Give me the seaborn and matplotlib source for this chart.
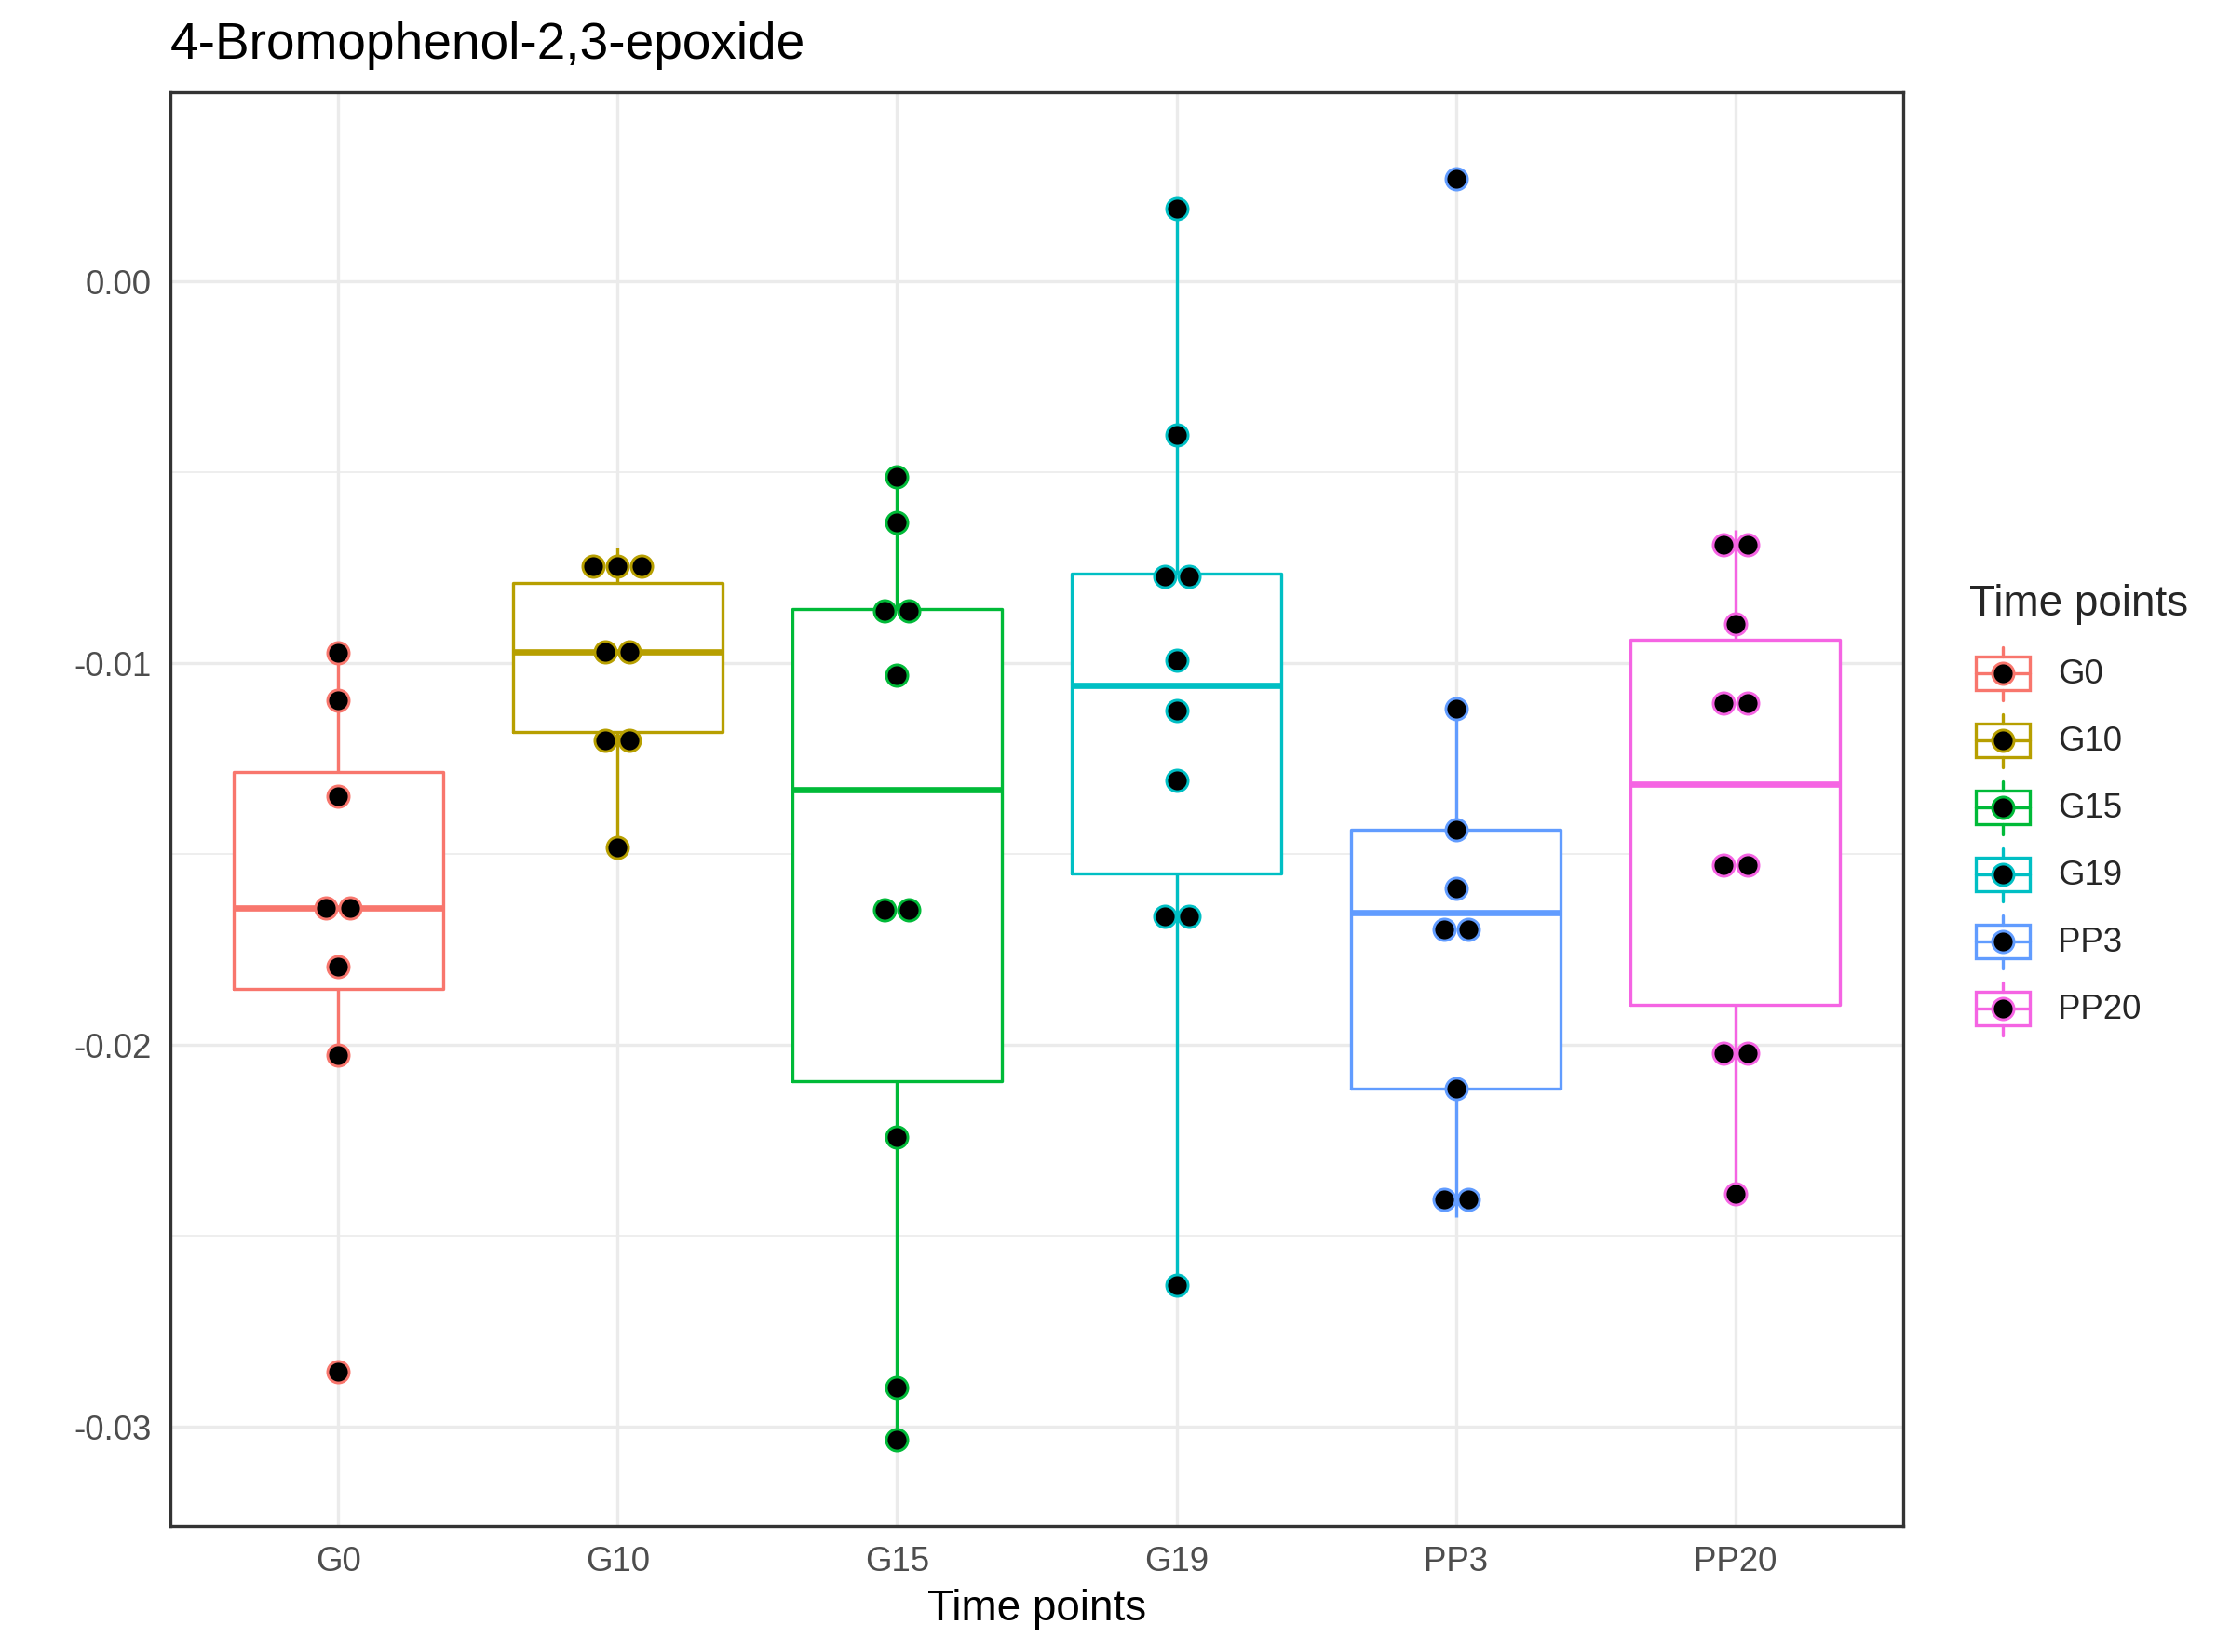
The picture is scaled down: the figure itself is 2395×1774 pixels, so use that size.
import numpy as np
import pandas as pd
import matplotlib
matplotlib.use("Agg")
import matplotlib.pyplot as plt
import matplotlib.patches as mpatches
from matplotlib.lines import Line2D
from matplotlib.legend_handler import HandlerBase
import seaborn as sns

TITLE = "4-Bromophenol-2,3-epoxide"
X_LABEL = "Time points"
LEGEND_TITLE = "Time points"

groups = ["G0", "G10", "G15", "G19", "PP3", "PP20"]
colors = ["#F8766D", "#B79F00", "#00BA38", "#00BFC4", "#619CFF", "#F564E3"]

# values (box stats + dot positions)
g0 = [-0.00972, -0.01096, -0.01347, -0.01620, -0.01660, -0.01795, -0.02027, -0.02854]
g10 = [-0.00696, -0.00772, -0.00796, -0.00938, -0.01000, -0.01156, -0.01248, -0.01482]
g15 = [-0.00512, -0.00630, -0.00854, -0.00870, -0.01030, -0.01630, -0.01660,
       -0.02240, -0.02896, -0.03034]
g19 = [0.00191, -0.00401, -0.00759, -0.00787, -0.00991, -0.01124, -0.01307,
       -0.01632, -0.01694, -0.02627]
pp3 = [0.00270, -0.01119, -0.01435, -0.01590, -0.01652, -0.01740, -0.02114,
       -0.02356, -0.02450]
pp20 = [-0.00650, -0.00730, -0.00897, -0.01057, -0.01153, -0.01479, -0.01577,
        -0.02000, -0.02042, -0.02389]

y_ticks = [0.0, -0.01, -0.02, -0.03]
y_tick_labels = ["0.00", "-0.01", "-0.02", "-0.03"]
y_minor = [-0.005, -0.015, -0.025]

DPI = 300
DOT_PX = 26          # outer dot diameter in pixels
DOT_EDGE = 0.7       # pt
DOT_MS = DOT_PX / DPI * 72 - DOT_EDGE
LINE_C = "#333333"
GRID_C = "#EBEBEB"
LEG_FS = 8.8
KEY_PT = 17.28
# matplotlib trims 0.35*fs*(h-0.7) off the handle box; solve for a 17.28pt key
KEY_H = (KEY_PT / LEG_FS - 0.245) / 0.65


def dot_bins(values, bw):
    # ggplot "dotdensity" binning
    v = np.sort(np.asarray(values))
    bins = []
    end = -np.inf
    for x in v:
        if x >= end:
            bins.append([x])
            end = x + bw
        else:
            bins[-1].append(x)
    return [((b[0] + b[-1]) / 2, len(b)) for b in bins]


class BoxDotHandler(HandlerBase):
    def create_artists(self, legend, orig_handle, xdescent, ydescent,
                       width, height, fontsize, trans):
        col = orig_handle.get_edgecolor()
        x0, y0 = -xdescent, -ydescent
        cx, cy = x0 + width / 2, y0 + height / 2
        box = mpatches.Rectangle((x0 + 0.1 * width, y0 + 0.25 * height),
                                 0.8 * width, 0.5 * height, facecolor="white",
                                 edgecolor=col, linewidth=0.8, transform=trans)
        med = Line2D([x0 + 0.1 * width, x0 + 0.9 * width], [cy, cy],
                     color=col, linewidth=0.8, transform=trans)
        w1 = Line2D([cx, cx], [y0 + 0.1 * height, y0 + 0.25 * height],
                    color=col, linewidth=0.8, transform=trans)
        w2 = Line2D([cx, cx], [y0 + 0.75 * height, y0 + 0.9 * height],
                    color=col, linewidth=0.8, transform=trans)
        dot = Line2D([cx], [cy], marker="o", markersize=DOT_MS,
                     markerfacecolor="black", markeredgecolor=col,
                     markeredgewidth=DOT_EDGE, linestyle="none", transform=trans)
        return [box, med, w1, w2, dot]


def main():
    series = [g0, g10, g15, g19, pp3, pp20]
    df = pd.DataFrame({
        "group": np.repeat(groups, [len(s) for s in series]),
        "value": np.concatenate(series),
    })

    sns.set_style("white")
    plt.rcParams["font.family"] = ["Liberation Sans", "DejaVu Sans"]

    fig = plt.figure(figsize=(2395 / DPI, 1774 / DPI), dpi=DPI)
    ax = fig.add_axes([183 / 2395, 1 - 1639 / 1774,
                       (2044 - 183) / 2395, (1639 - 99) / 1774])

    # white box fill under the coloured outlines
    sns.boxplot(data=df, x="group", y="value", order=groups, color="white",
                saturation=1, fill=True, width=0.75, showfliers=False,
                showcaps=False, linewidth=0, linecolor="white", ax=ax)
    sns.boxplot(data=df, x="group", y="value", order=groups, hue="group",
                hue_order=groups, palette=colors, saturation=1, fill=False,
                width=0.75, showfliers=False, showcaps=False, linewidth=0.8,
                medianprops={"linewidth": 1.6}, legend=False, ax=ax)

    bw = (df["value"].max() - df["value"].min()) / 30
    ax.set_xlim(-0.6, len(groups) - 0.4)

    step = DOT_PX / (ax.get_window_extent().width / (len(groups) + 0.2))
    lo, hi = np.inf, -np.inf
    for i, (name, vals) in enumerate(zip(groups, series)):
        xs, ys = [], []
        for c, n in dot_bins(vals, bw):
            xs.extend(i + (np.arange(n) - (n - 1) / 2) * step)
            ys.extend([c] * n)
            lo, hi = min(lo, c), max(hi, c)
        sns.scatterplot(x=xs, y=ys, color="black", edgecolor=colors[i],
                        linewidth=DOT_EDGE, s=DOT_MS ** 2, zorder=3,
                        legend=False, ax=ax)

    lo, hi = lo - bw / 2, hi + bw / 2
    pad = (hi - lo) * 0.05
    ax.set_ylim(lo - pad, hi + pad)

    ax.set_xticks(range(len(groups)))
    ax.set_xticklabels(groups)
    ax.set_yticks(y_ticks, labels=y_tick_labels)
    ax.set_yticks(y_minor, minor=True)
    ax.tick_params(which="major", length=2.75, width=0.8, color=LINE_C,
                   labelsize=8.8, labelcolor="#4D4D4D", pad=2.2)
    ax.tick_params(which="minor", length=0)
    ax.set_axisbelow(True)
    ax.grid(which="major", color=GRID_C, linewidth=0.8)
    ax.grid(which="minor", axis="y", color=GRID_C, linewidth=0.4)
    for sp in ax.spines.values():
        sp.set_visible(True)
        sp.set_color(LINE_C)
        sp.set_linewidth(0.8)

    ax.set_xlabel(X_LABEL, fontsize=11, labelpad=2.75, color="black")
    ax.set_ylabel("")
    ax.set_title(TITLE, loc="left", fontsize=13.2, pad=8.6, color="black")

    handles = [mpatches.Patch(facecolor="white", edgecolor=c) for c in colors]
    leg = fig.legend(handles, groups, handler_map={mpatches.Patch: BoxDotHandler()},
                     loc="center left", bbox_to_anchor=(2115 / 2395, 1 - 873 / 1774),
                     title=LEGEND_TITLE, title_fontsize=11, fontsize=LEG_FS,
                     frameon=False, borderpad=0, borderaxespad=0, labelspacing=0,
                     handlelength=KEY_PT / LEG_FS, handleheight=KEY_H,
                     handletextpad=5.5 / LEG_FS, alignment="left")
    # gap between legend title and keys
    leg._legend_box.sep = 4.0

    fig.savefig("out.png", dpi=DPI)
    plt.close(fig)


if __name__ == "__main__":
    main()
